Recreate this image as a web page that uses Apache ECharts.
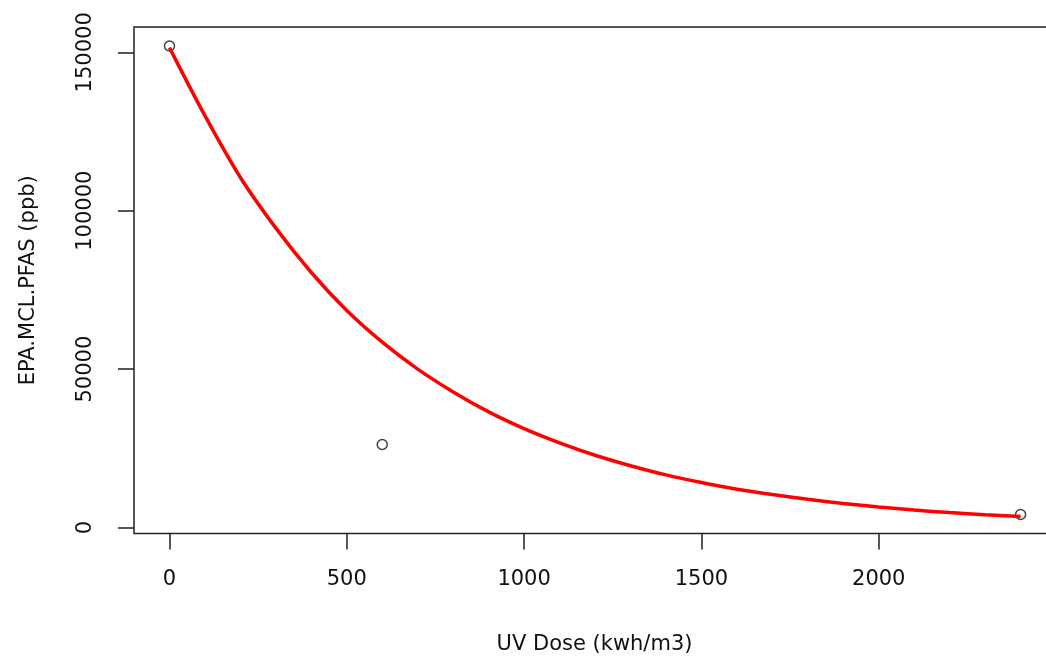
<!DOCTYPE html>
<html>
<head>
<meta charset="utf-8">
<script src="https://cdn.jsdelivr.net/npm/echarts@6/dist/echarts.min.js"></script>
<style>
html,body{margin:0;padding:0;background:#fff;}
#chart{width:1046px;height:666px;}
</style>
</head>
<body>
<div id="chart"></div>
<script>
// Observed points: UV dose (kwh/m3) vs EPA.MCL.PFAS (ppb)
const obsDose = [0, 600, 2400];
const obsPfas = [152000, 26200, 4100];

// Fitted curve
const curveDose = [0,100,200,300,400,500,600,700,800,900,1000,1100,1200,1300,1400,1500,1600,1700,1800,1900,2000,2100,2200,2300,2400];
const curvePfas = [151500,130000,110500,94500,80500,68500,58500,50000,42800,36500,31200,26700,22800,19500,16600,14200,12100,10400,8900,7600,6500,5500,4700,4000,3450];

const xTicks = [0, 500, 1000, 1500, 2000];
const yTicks = [0, 50000, 100000, 150000];

const xTitle = 'UV Dose (kwh/m3)';
const yTitle = 'EPA.MCL.PFAS (ppb)';

const font = 'DejaVu Sans';
const ink = '#111111';
const lineCol = '#222222';

const chart = echarts.init(document.getElementById('chart'), null, {renderer: 'canvas'});
chart.setOption({
  animation: false,
  backgroundColor: '#ffffff',
  grid: {
    left: 134, top: 27, width: 921, height: 506.5,
    outerBoundsMode: 'none', containLabel: false,
    show: true, borderColor: lineCol, borderWidth: 1.5, backgroundColor: 'transparent'
  },
  xAxis: {
    type: 'value', min: -100, max: 2497,
    name: xTitle, nameLocation: 'middle', nameGap: 101,
    nameTextStyle: {fontFamily: font, fontSize: 21, color: ink},
    axisLine: {show: false, onZero: false},
    axisTick: {show: true, length: 16, customValues: xTicks, lineStyle: {color: lineCol, width: 1.5}},
    axisLabel: {customValues: xTicks, margin: 36, fontFamily: font, fontSize: 21, color: ink,
      formatter: v => String(v)},
    splitLine: {show: false}
  },
  yAxis: {
    type: 'value', min: -1900, max: 158000,
    name: yTitle, nameLocation: 'middle', nameGap: 95, nameRotate: 90,
    nameTextStyle: {fontFamily: font, fontSize: 21, color: ink},
    axisLine: {show: false, onZero: false},
    axisTick: {show: true, length: 16, customValues: yTicks, lineStyle: {color: lineCol, width: 1.5}},
    axisLabel: {customValues: yTicks, rotate: 90, margin: 38, fontFamily: font, fontSize: 21, color: ink,
      formatter: v => String(v)},
    splitLine: {show: false}
  },
  series: [
    {
      type: 'scatter', z: 2,
      data: obsDose.map((d, i) => [d, obsPfas[i]]),
      symbol: 'circle', symbolSize: 10,
      itemStyle: {color: 'rgba(0,0,0,0)', borderColor: '#111', borderWidth: 1.5}
    },
    {
      type: 'line', z: 3,
      data: curveDose.map((d, i) => [d, curvePfas[i]]),
      showSymbol: false, smooth: 0.3,
      lineStyle: {color: '#ff0000', width: 3.5}
    }
  ]
});
</script>
</body>
</html>
